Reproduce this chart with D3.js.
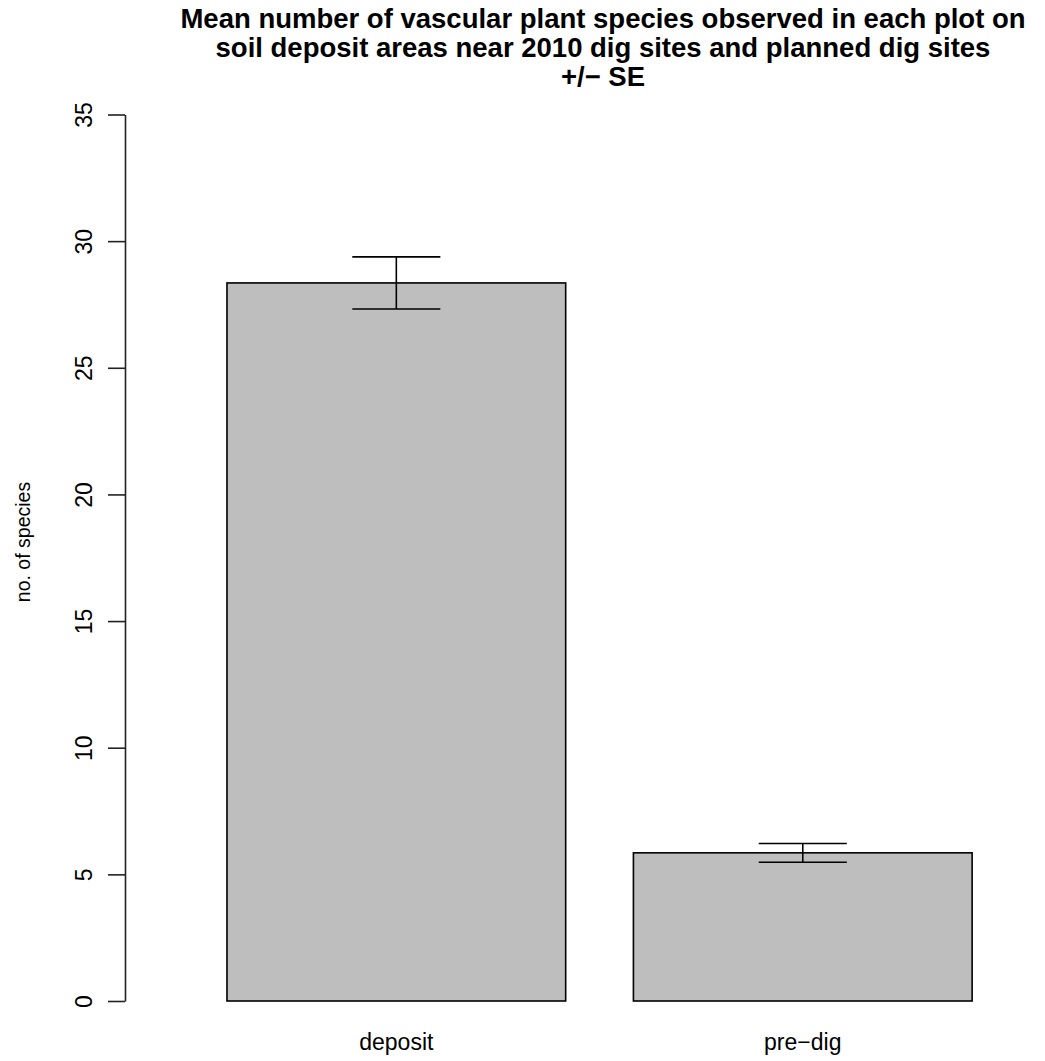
<!DOCTYPE html>
<html>
<head>
<meta charset="utf-8">
<script src="https://cdn.jsdelivr.net/npm/d3@7"></script>
<style>
  html, body { margin: 0; padding: 0; background: #fff; }
  svg { display: block; }
  text { font-family: "Liberation Sans", Arial, Helvetica, sans-serif; fill: #000; }
</style>
</head>
<body>
<script>
// Bar chart data
const categories = ["deposit", "pre\u2212dig"];
const meanValues = [28.35, 5.85];
const seValues = [1.03, 0.37];
const yTicks = [0, 5, 10, 15, 20, 25, 30, 35];
const titleLines = [
  "Mean number of vascular plant species observed in each plot on",
  "soil deposit areas near 2010 dig sites and planned dig sites",
  "+/\u2212 SE"
];
const yLabel = "no. of species";

const W = 1045, H = 1061;
const svg = d3.select("body").append("svg").attr("width", W).attr("height", H);

const x = d3.scaleBand()
  .domain(categories)
  .range([193.1, 1006])
  .paddingInner(1 / 6)
  .paddingOuter(1 / 12);

const y = d3.scaleLinear().domain([0, 35]).range([1001, 114.5]);

// Bars
svg.append("g").selectAll("rect")
  .data(categories)
  .join("rect")
  .attr("x", d => x(d))
  .attr("width", x.bandwidth())
  .attr("y", (d, i) => y(meanValues[i]))
  .attr("height", (d, i) => y(0) - y(meanValues[i]))
  .attr("fill", "#bebebe")
  .attr("stroke", "#000")
  .attr("stroke-width", 1.6);

// Error bars (+/- SE)
const capHalf = x.bandwidth() * 0.13;
const eb = svg.append("g").attr("stroke", "#000").attr("stroke-width", 1.6).attr("fill", "none");
categories.forEach((c, i) => {
  const cx = x(c) + x.bandwidth() / 2;
  const hi = y(meanValues[i] + seValues[i]);
  const lo = y(meanValues[i] - seValues[i]);
  eb.append("line").attr("x1", cx).attr("x2", cx).attr("y1", hi).attr("y2", lo);
  eb.append("line").attr("x1", cx - capHalf).attr("x2", cx + capHalf).attr("y1", hi).attr("y2", hi);
  eb.append("line").attr("x1", cx - capHalf).attr("x2", cx + capHalf).attr("y1", lo).attr("y2", lo);
});

// Y axis with rotated tick labels
const yAxis = d3.axisLeft(y).tickValues(yTicks).tickSize(17).tickSizeOuter(0).tickFormat(d3.format("d"));
const gy = svg.append("g").attr("transform", "translate(125,0)").call(yAxis);
gy.select(".domain").attr("stroke", "#222").attr("stroke-width", 1.6);
gy.selectAll(".tick line").attr("stroke", "#222").attr("stroke-width", 1.6);
gy.selectAll(".tick text")
  .attr("x", null).attr("dy", null)
  .attr("transform", "translate(-33,0) rotate(-90)")
  .attr("text-anchor", "middle")
  .attr("font-size", 23)
  .attr("fill", "#000");

// Category labels
svg.append("g").selectAll("text")
  .data(categories)
  .join("text")
  .attr("x", d => x(d) + x.bandwidth() / 2)
  .attr("y", 1050)
  .attr("text-anchor", "middle")
  .attr("font-size", 23)
  .text(d => d);

// Y axis title
svg.append("text")
  .attr("transform", "translate(30,542) rotate(-90)")
  .attr("text-anchor", "middle")
  .attr("font-size", 19.5)
  .text(yLabel);

// Title
svg.append("g").selectAll("text")
  .data(titleLines)
  .join("text")
  .attr("x", 603)
  .attr("y", (d, i) => 28 + i * 29)
  .attr("text-anchor", "middle")
  .attr("font-size", 27.5)
  .attr("font-weight", "bold")
  .text(d => d);
</script>
</body>
</html>
